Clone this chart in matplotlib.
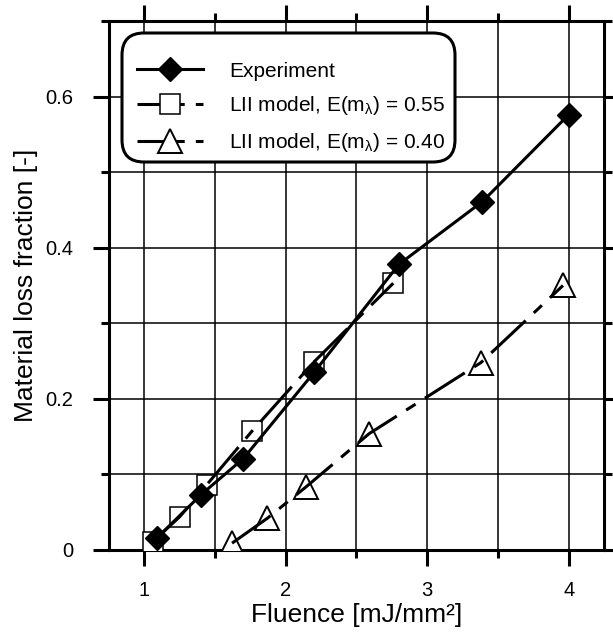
import matplotlib
matplotlib.use("Agg")
import matplotlib.pyplot as plt
from matplotlib.lines import Line2D
from matplotlib.patches import FancyBboxPatch
from matplotlib.ticker import MultipleLocator

plt.rcParams['font.family'] = ['Liberation Sans', 'DejaVu Sans']
plt.rcParams['mathtext.fontset'] = 'custom'
plt.rcParams['mathtext.rm'] = 'Liberation Sans'
plt.rcParams['mathtext.it'] = 'Liberation Sans'
plt.rcParams['lines.scale_dashes'] = False

# Measured material loss
exp_fluence = [1.09, 1.40, 1.70, 2.20, 2.80, 3.39, 4.00]
exp_loss = [0.016, 0.073, 0.121, 0.235, 0.378, 0.461, 0.576]

# LII model, E(m_lambda) = 0.55
m055_fluence = [1.06, 1.25, 1.44, 1.76, 2.20, 2.76]
m055_loss = [0.011, 0.044, 0.086, 0.157, 0.249, 0.353]

# LII model, E(m_lambda) = 0.40
m040_fluence = [1.62, 1.87, 2.14, 2.59, 3.38, 3.96]
m040_loss = [0.009, 0.042, 0.083, 0.154, 0.248, 0.350]

x_ticks = [1, 2, 3, 4]
x_ticklabels = ["1", "2", "3", "4"]
y_ticks = [0, 0.2, 0.4, 0.6]
y_ticklabels = ["0", "0.2", "0.4", "0.6"]

labels = ["Experiment",
          r"LII model, E(m$_{\lambda}$) = 0.55",
          r"LII model, E(m$_{\lambda}$) = 0.40"]

fig = plt.figure(figsize=(6.13, 6.35), dpi=100)
ax = fig.add_axes([0.1778, 0.1339, 0.8075, 0.8330])

lw = 2.2
dash = (0, (34, 8, 8, 8))

# model markers first, lines drawn over them
ax.plot(m055_fluence, m055_loss, ls='none', marker='s', ms=15, mfc='white',
        mec='black', mew=1.1, zorder=3)
ax.plot(m040_fluence, m040_loss, ls='none', marker='^', ms=17, mfc='white',
        mec='black', mew=1.4, zorder=3)
ax.plot(m055_fluence, m055_loss, color='black', lw=lw, ls=dash, zorder=4)
ax.plot(m040_fluence, m040_loss, color='black', lw=lw, ls=dash, zorder=4)
ax.plot(exp_fluence, exp_loss, color='black', lw=lw, marker='D', ms=12.5,
        mfc='black', mec='black', zorder=5)

ax.set_xlim(0.75, 4.25)
ax.set_ylim(0, 0.7)
ax.set_xticks(x_ticks, x_ticklabels)
ax.set_yticks(y_ticks, y_ticklabels)
ax.xaxis.set_minor_locator(MultipleLocator(0.5))
ax.yaxis.set_minor_locator(MultipleLocator(0.1))

ax.grid(True, which='both', color='black', lw=1.1, zorder=1)
ax.set_axisbelow(True)
for s in ax.spines.values():
    s.set_linewidth(lw)
ax.tick_params(which='both', direction='out', top=True, right=True, width=lw)
ax.tick_params(which='major', length=11.5, labelsize=14.5)
ax.tick_params(axis='x', which='major', pad=11)
ax.tick_params(axis='y', which='major', pad=14)
ax.tick_params(which='minor', length=6)

ax.set_xlabel("Fluence [mJ/mm²]", fontsize=19, labelpad=2)
ax.set_ylabel("Material loss fraction [-]", fontsize=19, labelpad=5.5)

# rounded legend box (inches, figure coordinates)
box = FancyBboxPatch((1.22, 4.73), 3.33, 1.29,
                     boxstyle="round,pad=0,rounding_size=0.22",
                     transform=fig.dpi_scale_trans, facecolor='white',
                     edgecolor='black', lw=lw, zorder=6, clip_on=False)
ax.add_artist(box)

handles = [
    Line2D([], [], color='black', lw=lw, marker='D', ms=12.5, mfc='black'),
    Line2D([], [], color='black', lw=lw, ls=dash, marker='s', ms=15,
           mfc='white', mec='black', mew=1.1),
    Line2D([], [], color='black', lw=lw, ls=dash, marker='^', ms=17,
           mfc='white', mec='black', mew=1.4),
]
leg = ax.legend(handles, labels, loc='upper left',
                bbox_to_anchor=(0.0566, 0.923), borderaxespad=0,
                borderpad=0, fontsize=15, handlelength=3.17,
                handletextpad=1.25, labelspacing=0.66, frameon=False)
leg.set_zorder(7)

fig.savefig("out.png", dpi=100)
